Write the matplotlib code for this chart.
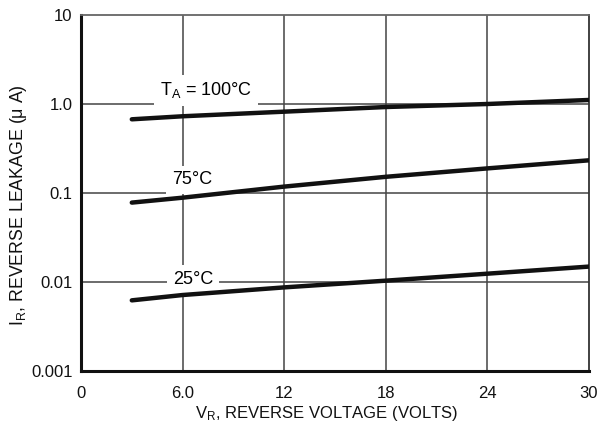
import numpy as np
import matplotlib
matplotlib.use("Agg")
import matplotlib.pyplot as plt
from matplotlib.ticker import FixedLocator, NullLocator

plt.rcParams['font.family'] = ['Liberation Sans', 'DejaVu Sans']
plt.rcParams['mathtext.fontset'] = 'custom'
plt.rcParams['mathtext.rm'] = 'Liberation Sans'
plt.rcParams['mathtext.it'] = 'Liberation Sans'

# reverse voltage (V) and leakage (uA)
vr = [3, 6, 12, 18, 24, 30]
ir_100 = [0.673, 0.728, 0.82, 0.925, 1.0, 1.11]
ir_75 = [0.078, 0.0886, 0.118, 0.152, 0.189, 0.233]
ir_25 = [0.00622, 0.00714, 0.0087, 0.01035, 0.0124, 0.0149]

xticks = [0, 6, 12, 18, 24, 30]
xticklabels = ['0', '6.0', '12', '18', '24', '30']
yticks = [0.001, 0.01, 0.1, 1.0, 10]
yticklabels = ['0.001', '0.01', '0.1', '1.0', '10']

fig = plt.figure(figsize=(6.01, 4.30), dpi=100)
ax = fig.add_axes([81/601, 59/430, 508/601, 356/430])

ax.set_yscale('log')
ax.set_xlim(0, 30)
ax.set_ylim(0.001, 10)

# grid
for x in xticks[1:-1]:
    ax.axvline(x, color='#444444', lw=1.1, zorder=1)
for y in yticks[1:-1]:
    ax.axhline(y, color='#444444', lw=1.1, zorder=1)

for ys in (ir_100, ir_75, ir_25):
    ax.plot(vr, ys, color='#111111', lw=3.2, solid_capstyle='round', zorder=4)

box = dict(facecolor='white', edgecolor='none', pad=4)
ax.text(7.38, 1.42, r'T$_\mathrm{A}$ = 100°C', fontsize=13, ha='center', va='center', bbox=box, zorder=3)
ax.text(6.54, 0.14, '75°C', fontsize=13, ha='center', va='center', bbox=box, zorder=3)
ax.text(6.62, 0.0108, '25°C', fontsize=13, ha='center', va='center', bbox=box, zorder=3)

ax.xaxis.set_major_locator(FixedLocator(xticks))
ax.set_xticklabels(xticklabels)
ax.yaxis.set_major_locator(FixedLocator(yticks))
ax.yaxis.set_minor_locator(NullLocator())
ax.set_yticklabels(yticklabels)
ax.tick_params(length=0, labelsize=12, colors='#111111')
ax.tick_params(axis='x', pad=11)
ax.tick_params(axis='y', pad=6)

ax.spines['left'].set_linewidth(2.2)
ax.spines['bottom'].set_linewidth(2.2)
ax.spines['left'].set_color('#111111')
ax.spines['bottom'].set_color('#111111')
ax.spines['top'].set_linewidth(1.3)
ax.spines['right'].set_linewidth(1.3)
ax.spines['top'].set_color('#666666')
ax.spines['right'].set_color('#333333')

ax.set_xlabel(r'V$_\mathrm{R}$, REVERSE VOLTAGE (VOLTS)', fontsize=12, color='#111111')
ax.set_ylabel(r'I$_\mathrm{R}$, REVERSE LEAKAGE (μ A)', fontsize=12.8, color='#111111')
ax.xaxis.set_label_coords(0.484, -0.093)
ax.yaxis.set_label_coords(-0.103, 0.466)

fig.savefig('out.png', dpi=100)
